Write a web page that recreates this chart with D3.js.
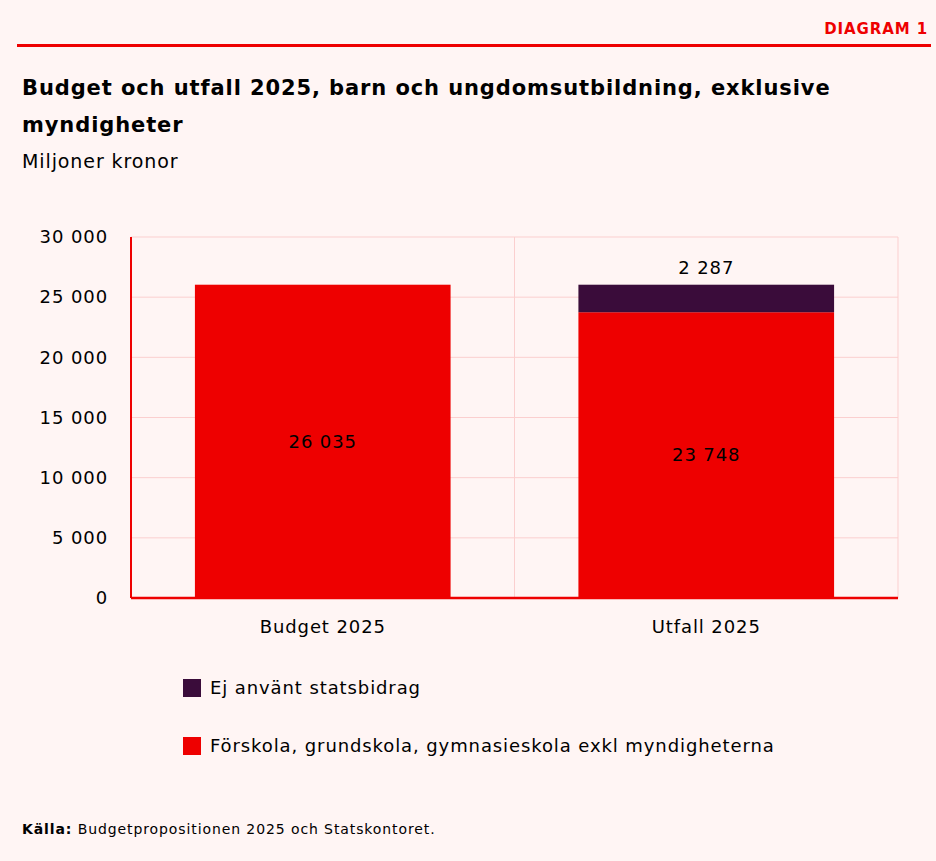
<!DOCTYPE html>
<html>
<head>
<meta charset="utf-8">
<script src="https://cdn.jsdelivr.net/npm/d3@7"></script>
<style>
  body { margin: 0; background: #fff5f4; }
  svg { display: block; font-family: "DejaVu Sans", sans-serif; letter-spacing: 0.9px; }
</style>
</head>
<body>
<div id="chart"></div>
<script>
// Data
const categories = ['Budget 2025', 'Utfall 2025'];
const seriesNames = ['Förskola, grundskola, gymnasieskola exkl myndigheterna', 'Ej använt statsbidrag'];
const forskolaValues = [26035, 23748];
const ejAnvantValues = [0, 2287];
const yTicks = [0, 5000, 10000, 15000, 20000, 25000, 30000];

const colors = { red: '#ee0000', dark: '#3a0c3a', grid: '#fbcfcf', bg: '#fff5f4' };
const font = '"DejaVu Sans", sans-serif';

const W = 936, H = 861;
const margin = { top: 237, right: 38, bottom: 263, left: 131 };
const width = W - margin.left - margin.right;
const height = H - margin.top - margin.bottom;

const fmt = v => d3.format(',')(v).replace(/,/g, ' ');

const svg = d3.select('#chart')
  .append('svg')
  .attr('width', W)
  .attr('height', H);

svg.append('rect').attr('width', W).attr('height', H).attr('fill', colors.bg);

// Header
svg.append('text')
  .attr('x', 928).attr('y', 34)
  .attr('text-anchor', 'end')
  .style('font-size', '15px').style('font-weight', 'bold')
  .attr('fill', colors.red)
  .text('DIAGRAM 1');

svg.append('rect')
  .attr('x', 17).attr('y', 44).attr('width', 914).attr('height', 3)
  .attr('fill', colors.red);

svg.append('text')
  .attr('x', 22).attr('y', 95)
  .style('font-size', '21px').style('font-weight', 'bold')
  .text('Budget och utfall 2025, barn och ungdomsutbildning, exklusive');
svg.append('text')
  .attr('x', 22).attr('y', 132)
  .style('font-size', '21px').style('font-weight', 'bold')
  .text('myndigheter');
svg.append('text')
  .attr('x', 22).attr('y', 168)
  .style('font-size', '19px')
  .text('Miljoner kronor');

const g = svg.append('g')
  .attr('transform', `translate(${margin.left}, ${margin.top})`);

// Scales
const xScale = d3.scaleBand()
  .domain(categories)
  .range([0, width])
  .paddingInner(1 / 3)
  .paddingOuter(1 / 6);

const yScale = d3.scaleLinear()
  .domain([0, 30000])
  .range([height, 0]);

// Grid
g.selectAll('.hgrid')
  .data(yTicks)
  .enter().append('line')
  .attr('x1', 0).attr('x2', width)
  .attr('y1', d => yScale(d)).attr('y2', d => yScale(d))
  .attr('stroke', colors.grid).attr('stroke-width', 1);

// vertical grid lines at category boundaries
const step = xScale.step();
const boundaries = categories.map(c => xScale(c) + xScale.bandwidth() + step * xScale.paddingInner() / 2);
g.selectAll('.vgrid')
  .data(boundaries)
  .enter().append('line')
  .attr('x1', d => d).attr('x2', d => d)
  .attr('y1', 0).attr('y2', height)
  .attr('stroke', colors.grid).attr('stroke-width', 1);

// Stacked bars
const rows = categories.map((c, i) => ({ cat: c, forskola: forskolaValues[i], ejAnvant: ejAnvantValues[i] }));
const stack = d3.stack().keys(['forskola', 'ejAnvant'])(rows);
const fill = { forskola: colors.red, ejAnvant: colors.dark };

stack.forEach(layer => {
  g.selectAll(null)
    .data(layer.filter(d => d[1] > d[0]))
    .enter().append('rect')
    .attr('x', d => xScale(d.data.cat))
    .attr('width', xScale.bandwidth())
    .attr('y', d => yScale(d[1]))
    .attr('height', d => yScale(d[0]) - yScale(d[1]))
    .attr('fill', fill[layer.key]);
});

// Value labels
rows.forEach(r => {
  g.append('text')
    .attr('x', xScale(r.cat) + xScale.bandwidth() / 2)
    .attr('y', yScale(r.forskola / 2))
    .attr('dy', '0.35em')
    .attr('text-anchor', 'middle')
    .style('font-size', '18px')
    .text(fmt(r.forskola));
  if (r.ejAnvant > 0) {
    g.append('text')
      .attr('x', xScale(r.cat) + xScale.bandwidth() / 2)
      .attr('y', yScale(r.forskola + r.ejAnvant) - 17)
      .attr('dy', '0.35em')
      .attr('text-anchor', 'middle')
      .style('font-size', '18px')
      .text(fmt(r.ejAnvant));
  }
});

// Axes
const yAxis = g.append('g')
  .call(d3.axisLeft(yScale).tickValues(yTicks).tickSize(0).tickPadding(23).tickFormat(fmt));
yAxis.select('.domain').remove();
yAxis.selectAll('text').style('font-size', '18px').attr('fill', '#000').style('font-family', font);

const xAxis = g.append('g')
  .attr('transform', `translate(0, ${height})`)
  .call(d3.axisBottom(xScale).tickSize(0).tickPadding(22));
xAxis.select('.domain').remove();
xAxis.selectAll('text').style('font-size', '18px').attr('fill', '#000').style('font-family', font);

g.append('line')
  .attr('x1', 0).attr('x2', 0).attr('y1', 0).attr('y2', height)
  .attr('stroke', colors.red).attr('stroke-width', 2);
g.append('line')
  .attr('x1', 0).attr('x2', width).attr('y1', height).attr('y2', height)
  .attr('stroke', colors.red).attr('stroke-width', 2.5);

// Legend
const legendItems = [
  { name: seriesNames[1], color: colors.dark, y: 679 },
  { name: seriesNames[0], color: colors.red, y: 737 }
];
const legend = svg.selectAll('.legend')
  .data(legendItems)
  .enter().append('g')
  .attr('transform', d => `translate(183, ${d.y})`);
legend.append('rect')
  .attr('width', 18).attr('height', 18)
  .attr('fill', d => d.color);
legend.append('text')
  .attr('x', 27).attr('y', 9).attr('dy', '0.35em')
  .style('font-size', '18px')
  .text(d => d.name);

// Source
const src = svg.append('text')
  .attr('x', 22).attr('y', 834)
  .style('font-size', '14px');
src.append('tspan').style('font-weight', 'bold').text('Källa:');
src.append('tspan').text(' Budgetpropositionen 2025 och Statskontoret.');
</script>
</body>
</html>
